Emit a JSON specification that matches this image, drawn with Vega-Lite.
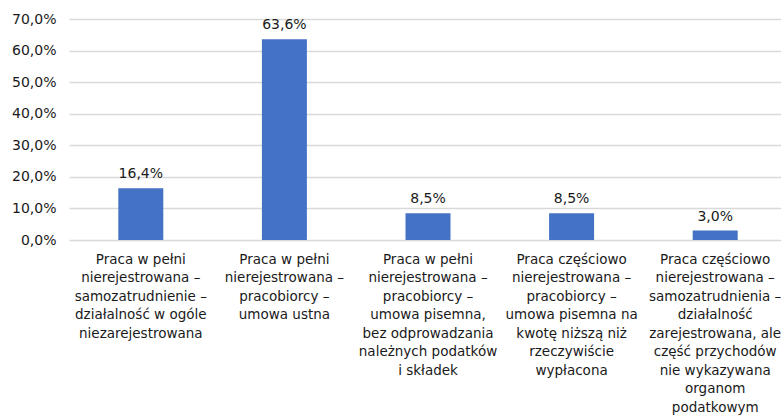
{
  "$schema": "https://vega.github.io/schema/vega-lite/v6.json",
  "autosize": "none",
  "width": 718,
  "height": 221,
  "padding": {"left": 69, "top": 19, "right": 0, "bottom": 180},
  "background": "white",
  "data": {
    "values": [
      {"kat": "Praca w pełni|nierejestrowana –|samozatrudnienie –|działalność w ogóle|niezarejestrowana", "v": 0.164},
      {"kat": "Praca w pełni|nierejestrowana –|pracobiorcy –|umowa ustna", "v": 0.636},
      {"kat": "Praca w pełni|nierejestrowana –|pracobiorcy –|umowa pisemna,|bez odprowadzania|należnych podatków|i składek", "v": 0.085},
      {"kat": "Praca częściowo|nierejestrowana –|pracobiorcy –|umowa pisemna na|kwotę niższą niż|rzeczywiście|wypłacona", "v": 0.085},
      {"kat": "Praca częściowo|nierejestrowana –|samozatrudnienia –|działalność|zarejestrowana, ale|część przychodów|nie wykazywana|organom|podatkowym", "v": 0.03}
    ]
  },
  "encoding": {
    "x": {
      "field": "kat", "type": "nominal", "sort": null,
      "scale": {"paddingInner": 0, "paddingOuter": 0},
      "axis": {
        "title": null, "labelAngle": 0, "ticks": false, "domain": false,
        "labelExpr": "split(datum.label, '|')",
        "labelFont": "DejaVu Sans", "labelFontSize": 13.5, "labelColor": "#1a1a1a",
        "labelLineHeight": 18.5, "labelPadding": 12, "labelLimit": 0, "labelBaseline": "top"
      }
    },
    "y": {
      "field": "v", "type": "quantitative",
      "scale": {"domain": [0, 0.7], "nice": false},
      "axis": {
        "title": null, "format": ".1%", "values": [0, 0.1, 0.2, 0.3, 0.4, 0.5, 0.6, 0.7],
        "labelOverlap": false, "labelFlush": false,
        "ticks": false, "domain": false, "gridColor": "#d9d9d9", "gridWidth": 1.3,
        "labelFont": "DejaVu Sans", "labelFontSize": 14, "labelColor": "#1a1a1a", "labelPadding": 13
      }
    }
  },
  "layer": [
    {"mark": {"type": "bar", "width": 45, "color": "#4472C4"}},
    {
      "mark": {"type": "text", "baseline": "bottom", "dy": -7, "font": "DejaVu Sans", "fontSize": 14, "color": "#1a1a1a"},
      "encoding": {"text": {"field": "v", "type": "quantitative", "format": ".1%"}}
    }
  ],
  "config": {
    "view": {"stroke": null},
    "locale": {"number": {"decimal": ",", "thousands": " ", "grouping": [3], "currency": ["", " zł"]}}
  }
}
